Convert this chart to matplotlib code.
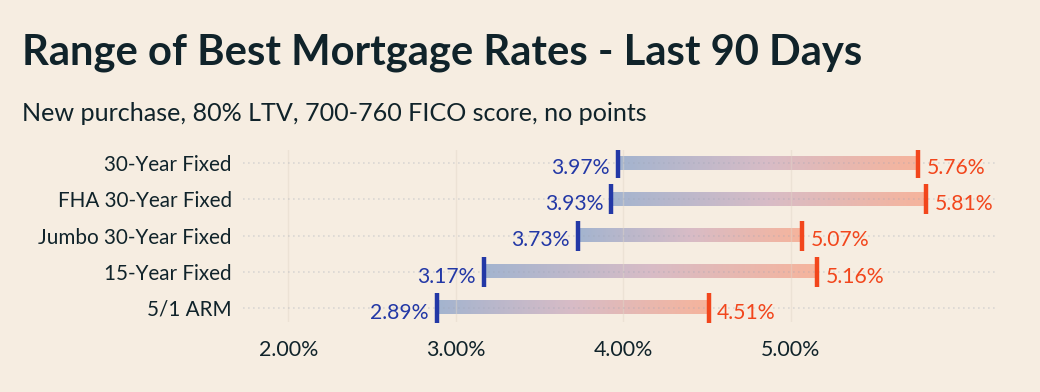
import matplotlib.pyplot as plt
import numpy as np
from matplotlib.colors import LinearSegmentedColormap

# Chart data
categories = ["30-Year Fixed", "FHA 30-Year Fixed", "Jumbo 30-Year Fixed", "15-Year Fixed", "5/1 ARM"]
low_rates = [3.97, 3.93, 3.73, 3.17, 2.89]
high_rates = [5.76, 5.81, 5.07, 5.16, 4.51]
x_ticks = [2.0, 3.0, 4.0, 5.0]

title = "Range of Best Mortgage Rates - Last 90 Days"
subtitle = "New purchase, 80% LTV, 700-760 FICO score, no points"

bg = "#f6ede1"
dark = "#10232a"
blue = "#2338a6"
orange = "#f2461c"

plt.rcParams['font.family'] = ['Lato', 'DejaVu Sans']

fig = plt.figure(figsize=(10.4, 3.92), dpi=100, facecolor=bg)
ax = fig.add_axes([0.2337, 0.1786, 0.7230, 0.4384])
ax.set_facecolor(bg)

grad = LinearSegmentedColormap.from_list("rng", ["#a3b4cf", "#d8bcc6", "#f6b49c"])
ramp = np.linspace(0, 1, 256).reshape(1, -1)
bar_h = 0.36

for i, (lo, hi) in enumerate(zip(low_rates, high_rates)):
    ax.imshow(ramp, cmap=grad, aspect='auto', extent=(lo, hi, i + bar_h / 2, i - bar_h / 2),
              zorder=1, interpolation='bilinear')
    ax.plot([lo], [i], marker='|', ms=21, mew=3.2, color=blue, zorder=4)
    ax.plot([hi], [i], marker='|', ms=21, mew=3.2, color=orange, zorder=4)
    ax.annotate(f"{lo:.2f}%", (lo, i), xytext=(-6, -3.5), textcoords='offset points',
                ha='right', va='center', fontsize=15.2, color=blue)
    ax.annotate(f"{hi:.2f}%", (hi, i), xytext=(6, -3.5), textcoords='offset points',
                ha='left', va='center', fontsize=15.2, color=orange)

ax.set_xlim(1.73, 6.22)
ax.set_ylim(len(categories) - 1 + 0.39, -0.36)

ax.set_yticks(range(len(categories)))
ax.set_yticklabels(categories)
ax.set_xticks(x_ticks)
ax.set_xticklabels([f"{t:.2f}%" for t in x_ticks])
ax.tick_params(axis='both', length=0, labelcolor=dark)
ax.tick_params(axis='x', pad=13, labelsize=15.4)
ax.tick_params(axis='y', pad=8, labelsize=14.9)

for s in ax.spines.values():
    s.set_visible(False)

ax.grid(axis='x', color='#e0d6c8', linewidth=1, alpha=0.45, zorder=2)
ax.grid(axis='y', color='#9aa3b5', linewidth=1.2, linestyle=(0, (1, 2)), alpha=0.3, zorder=2)
ax.set_axisbelow(False)

fig.text(22 / 1040, 1 - 64 / 392, title, fontsize=30.1, fontweight='bold', color=dark, va='baseline')
fig.text(22 / 1040, 1 - 121 / 392, subtitle, fontsize=18.1, color=dark, va='baseline')

fig.savefig("out.png", dpi=100, facecolor=bg)
